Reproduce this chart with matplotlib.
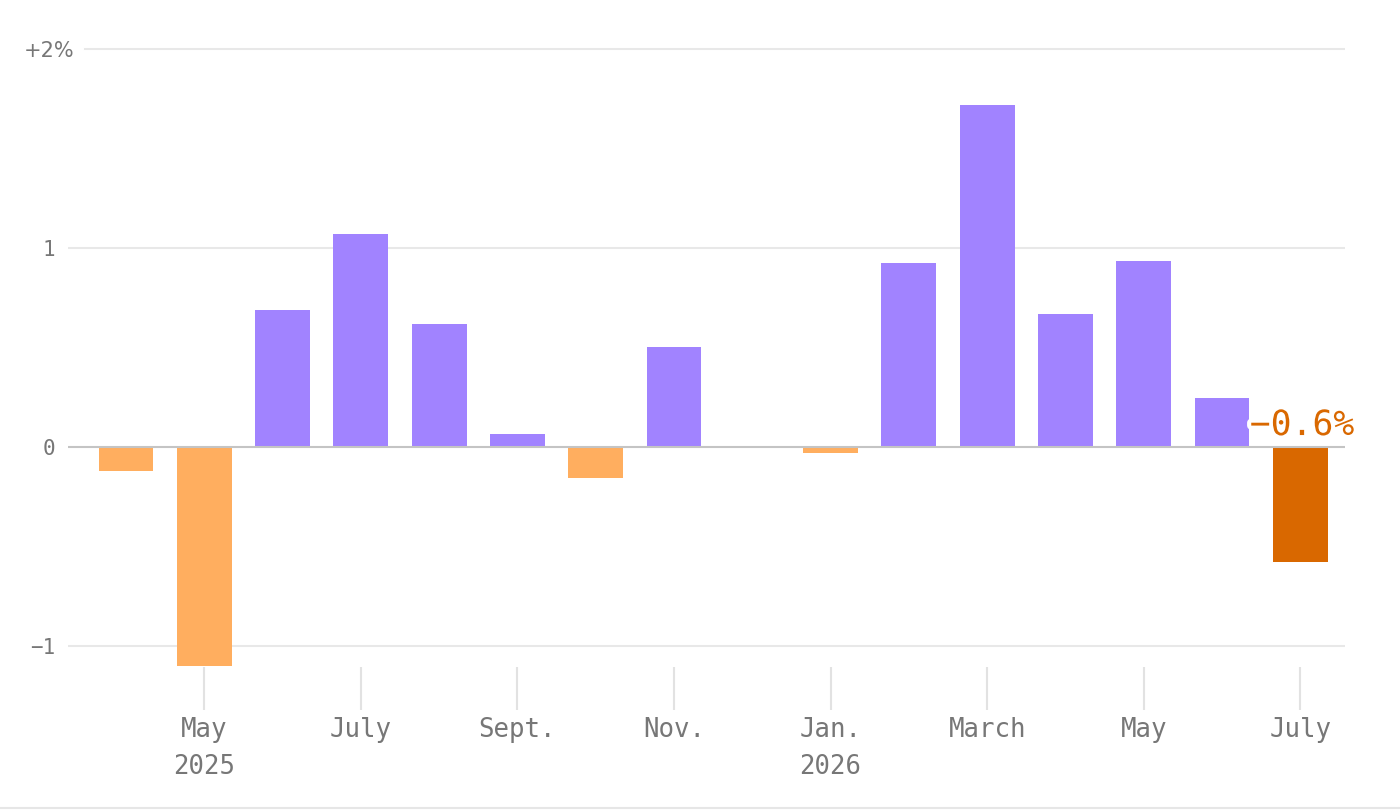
import numpy as np
import matplotlib
matplotlib.use("Agg")
import matplotlib.pyplot as plt
import matplotlib.patheffects as pe
from matplotlib.transforms import ScaledTranslation
from matplotlib.lines import Line2D

# ---- data ----
months = ["Apr 2025", "May 2025", "Jun 2025", "Jul 2025", "Aug 2025", "Sep 2025",
          "Oct 2025", "Nov 2025", "Dec 2025", "Jan 2026", "Feb 2026", "Mar 2026",
          "Apr 2026", "May 2026", "Jun 2026", "Jul 2026"]
values = [-0.12, -1.10, 0.69, 1.07, 0.62, 0.065, -0.155, 0.50, np.nan, -0.03,
          0.925, 1.72, 0.67, 0.935, 0.245, -0.58]
tick_idx = [1, 3, 5, 7, 9, 11, 13, 15]
tick_labels = ["May\n2025", "July", "Sept.", "Nov.", "Jan.\n2026", "March", "May", "July"]
ytick_vals = [-1, 0, 1, 2]
ytick_labels = ["\u22121", "0", "1", "+2%"]
last_label = "\u22120.6%"

POS = "#a183ff"
NEG = "#ffae5f"
LAST = "#d96800"
TXT = "#777777"
GRID = "#e8e8e8"

plt.rcParams["font.family"] = ["DejaVu Sans Mono"]

fig = plt.figure(figsize=(14, 8.1), dpi=100)
L, R = 68 / 1400, 1345 / 1400
B, T = 1 - 667 / 810, 1 - 45 / 810
ax = fig.add_axes([L, B, R - L, T - B])

x = np.arange(len(months))
vals = np.array(values, dtype=float)
colors = [LAST if i == len(vals) - 1 else (POS if (not np.isnan(v) and v >= 0) else NEG)
          for i, v in enumerate(vals)]
ax.bar(x, np.nan_to_num(vals), width=0.70, color=colors, zorder=2)

ax.set_xlim(-0.74, 15.57)
ax.set_ylim(-1.106, 2.02)

# grid lines
for v in ytick_vals:
    if v == 0:
        ax.axhline(0, color="#c4c4c4", lw=1.5, zorder=3)
    elif v == 2:
        ax.axhline(v, xmin=17 / 1277, color=GRID, lw=1.5, zorder=1)
    else:
        ax.axhline(v, color=GRID, lw=1.5, zorder=1)

for s in ax.spines.values():
    s.set_visible(False)

ax.set_yticks(ytick_vals)
ax.set_yticklabels(ytick_labels)
ax.tick_params(axis="y", length=0, pad=9, labelsize=15, labelcolor=TXT)
for lab in ax.get_yticklabels():
    if lab.get_text().endswith("%"):
        lab.set_fontfamily("DejaVu Sans")
        lab.set_transform(lab.get_transform() + ScaledTranslation(0.19, 0, fig.dpi_scale_trans))

ax.set_xticks(tick_idx)
ax.set_xticklabels(tick_labels, linespacing=1.55)
ax.tick_params(axis="x", length=31, width=1.5, color="#e2e2e2", pad=5,
               labelsize=18.5, labelcolor=TXT)

# label on last bar
ax.text(x[-1] + 0.02, 0.11, last_label, ha="center", va="center", fontsize=25,
        color=LAST, zorder=5,
        path_effects=[pe.withStroke(linewidth=6, foreground="white")])

# bottom border
fig.add_artist(Line2D([0, 1], [0.002, 0.002], transform=fig.transFigure,
                      color="#e6e6e6", lw=1.5))

fig.savefig("out.png", dpi=100, facecolor="white")
